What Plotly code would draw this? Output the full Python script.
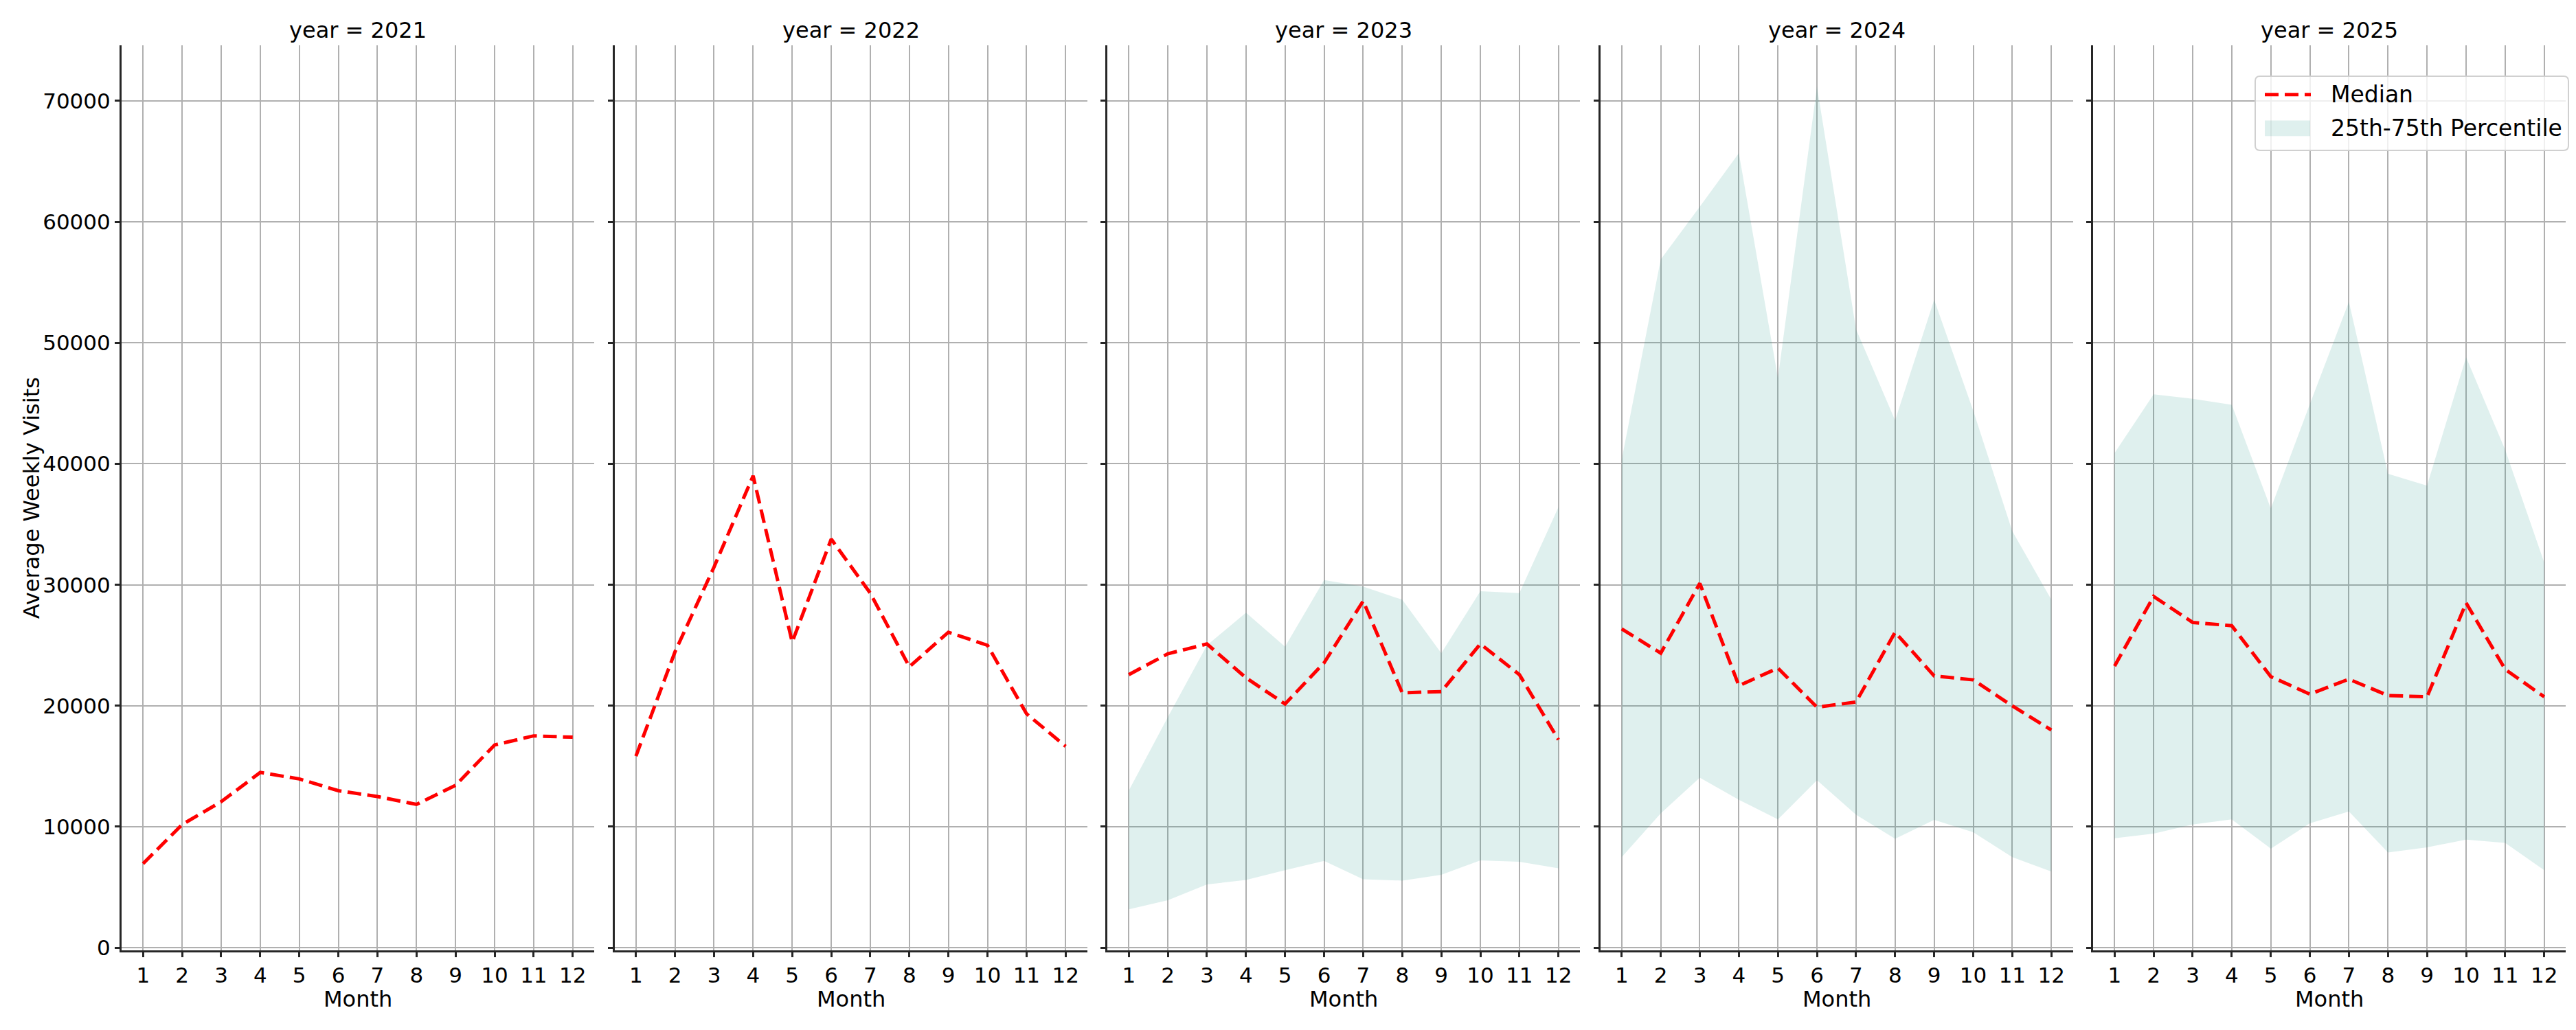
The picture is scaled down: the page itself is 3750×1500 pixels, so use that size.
import plotly.graph_objects as go

months = list(range(1, 13))
years = [2021, 2022, 2023, 2024, 2025]

median_2021 = [6950, 10180, 12070, 14490, 13950, 12980, 12500, 11850, 13420, 16760, 17510, 17400]
median_2022 = [15840, 24460, 31470, 39010, 25270, 33780, 29310, 23220, 26080, 25000, 19340, 16650]
median_2023 = [22575, 24300, 25110, 22310, 20150, 23550, 28660, 21070, 21170, 25110, 22575, 17190]
median_2024 = [26350, 24350, 30120, 21660, 23110, 19880, 20310, 26080, 22470, 22140, 19990, 18000]
median_2025 = [23280, 29040, 26890, 26620, 22410, 20960, 22200, 20850, 20740, 28500, 23010, 20740]

p25_2023 = [3180, 3930, 5230, 5600, 6410, 7170, 5660, 5550, 6030, 7220, 7110, 6570]
p75_2023 = [12990, 19070, 25000, 27690, 24890, 30390, 29850, 28770, 24350, 29470, 29310, 36420]
p25_2024 = [7490, 11100, 14060, 12230, 10610, 13850, 10990, 9000, 10560, 9540, 7490, 6300]
p75_2024 = [40350, 56900, 61260, 65680, 47090, 71170, 51130, 43590, 53560, 44400, 34430, 28770]
p25_2025 = [9050, 9430, 10180, 10610, 8190, 10290, 11260, 7870, 8300, 8940, 8670, 6410]
p75_2025 = [40890, 45740, 45370, 44880, 36310, 44940, 53400, 39170, 38200, 48810, 41160, 31840]

medians = [median_2021, median_2022, median_2023, median_2024, median_2025]
p25s = [None, None, p25_2023, p25_2024, p25_2025]
p75s = [None, None, p75_2023, p75_2024, p75_2025]

y_ticks = [0, 10000, 20000, 30000, 40000, 50000, 60000, 70000]
legend_labels = ["Median", "25th-75th Percentile"]

W, H = 3750, 1500
FONT = "DejaVu Sans"
left0, pw, gap = 169, 688, 29.5
top_px, bot_px = 59, 1389
band_fill = "rgba(42,157,143,0.15)"
grid_c = "#b0b0b0"
spine_c = "#262626"
median_line = dict(color="red", width=5, dash="20px,9px")
TICK_FS, TITLE_FS, LABEL_FS, LEG_FS = 31, 32, 32, 33


def px(x):
    return x / W


def py(y):
    return 1 - y / H


fig = go.Figure()
for i, yr in enumerate(years):
    xa = "x" if i == 0 else f"x{i+1}"
    ya = "y" if i == 0 else f"y{i+1}"
    if p25s[i] is not None:
        fig.add_trace(go.Scatter(x=months, y=p25s[i], mode="lines", line=dict(width=0),
                                 hoverinfo="skip", showlegend=False, xaxis=xa, yaxis=ya))
        fig.add_trace(go.Scatter(x=months, y=p75s[i], mode="lines", line=dict(width=0),
                                 fill="tonexty", fillcolor=band_fill,
                                 name=legend_labels[1], showlegend=False, xaxis=xa, yaxis=ya))
    fig.add_trace(go.Scatter(x=months, y=medians[i], mode="lines", line=median_line,
                             name=legend_labels[0], showlegend=False, xaxis=xa, yaxis=ya))

layout = dict(
    width=W, height=H, margin=dict(l=0, r=0, t=0, b=0),
    paper_bgcolor="white", plot_bgcolor="white",
    font=dict(family=FONT, size=TICK_FS, color="black"),
    showlegend=False,
)
annotations = []
shapes = []
yd = [py(bot_px), py(top_px)]
for i, yr in enumerate(years):
    x0 = left0 + i * (pw + gap)
    x1 = x0 + pw
    xk = "xaxis" if i == 0 else f"xaxis{i+1}"
    yk = "yaxis" if i == 0 else f"yaxis{i+1}"
    layout[xk] = dict(domain=[px(x0), px(x1)], range=[0.45, 12.55], tickmode="array",
                      tickvals=months, ticktext=[str(m) for m in months],
                      showgrid=True, gridcolor=grid_c, gridwidth=2,
                      showline=True, linecolor=spine_c, linewidth=3, zeroline=False,
                      ticks="outside", ticklen=7, tickwidth=3, tickcolor=spine_c,
                      tickfont=dict(size=TICK_FS, family=FONT), anchor="y" if i == 0 else f"y{i+1}")
    layout[yk] = dict(domain=yd, range=[-220, 74570], tickmode="array", tickvals=y_ticks,
                      ticktext=[str(v) for v in y_ticks], showticklabels=(i == 0),
                      showgrid=True, gridcolor=grid_c, gridwidth=2,
                      showline=True, linecolor=spine_c, linewidth=3, zeroline=False,
                      ticks="outside", ticklen=7, tickwidth=3, tickcolor=spine_c,
                      tickfont=dict(size=TICK_FS, family=FONT), anchor="x" if i == 0 else f"x{i+1}")
    cx = px((x0 + x1) / 2)
    annotations.append(dict(text=f"year = {yr}", x=cx, y=py(36), xref="paper", yref="paper",
                            showarrow=False, xanchor="center", yanchor="middle",
                            font=dict(size=TITLE_FS, family=FONT)))
    annotations.append(dict(text="Month", x=cx, y=py(1461), xref="paper", yref="paper",
                            showarrow=False, xanchor="center", yanchor="middle",
                            font=dict(size=LABEL_FS, family=FONT)))
annotations.append(dict(text="Average Weekly Visits", x=px(38), y=py(724), xref="paper",
                        yref="paper", showarrow=False, textangle=-90, xanchor="center",
                        yanchor="middle", font=dict(size=LABEL_FS, family=FONT)))

# legend box (rounded rectangle) in the last panel
bx0, bx1, by0, by1, r = 3275, 3731, 104, 213, 7
rx, ry = r / W, r / H
path = (f"M {px(bx0)+rx},{py(by0)} L {px(bx1)-rx},{py(by0)} Q {px(bx1)},{py(by0)} {px(bx1)},{py(by0)-ry} "
        f"L {px(bx1)},{py(by1)+ry} Q {px(bx1)},{py(by1)} {px(bx1)-rx},{py(by1)} "
        f"L {px(bx0)+rx},{py(by1)} Q {px(bx0)},{py(by1)} {px(bx0)},{py(by1)+ry} "
        f"L {px(bx0)},{py(by0)-ry} Q {px(bx0)},{py(by0)} {px(bx0)+rx},{py(by0)} Z")
shapes.append(dict(type="path", path=path, xref="paper", yref="paper",
                   fillcolor="rgba(255,255,255,0.8)", line=dict(color="#d0d0d0", width=2)))
shapes.append(dict(type="line", xref="paper", yref="paper", x0=px(3289), x1=px(3356),
                   y0=py(131), y1=py(131), line=median_line))
shapes.append(dict(type="rect", xref="paper", yref="paper", x0=px(3289), x1=px(3355),
                   y0=py(192), y1=py(169), fillcolor=band_fill, line=dict(width=0)))
for lab, yc in zip(legend_labels, [131, 180]):
    annotations.append(dict(text=lab, x=px(3383), y=py(yc), xref="paper", yref="paper",
                            showarrow=False, xanchor="left", yanchor="middle",
                            font=dict(size=LEG_FS, family=FONT)))

layout["annotations"] = annotations
layout["shapes"] = shapes
fig.update_layout(**layout)
fig.write_html("out.html")
